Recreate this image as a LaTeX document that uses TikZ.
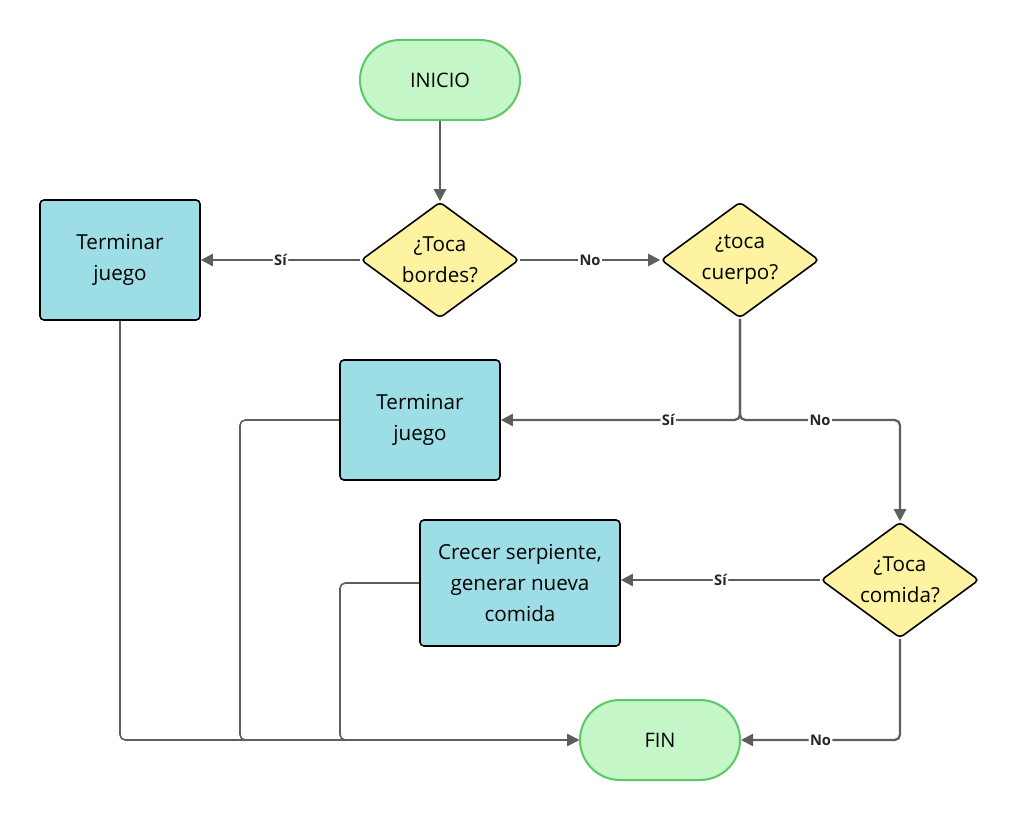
\documentclass[tikz,border=0pt]{standalone}
\usepackage{fontspec}
\setmainfont{Open Sans}
\usetikzlibrary{shapes.geometric,arrows.meta}
\definecolor{termfill}{HTML}{C4F6C8}
\definecolor{termdraw}{HTML}{5CC865}
\definecolor{decfill}{HTML}{FEF3A0}
\definecolor{procfill}{HTML}{9CDDE6}
\definecolor{edgecol}{HTML}{5E5E5E}
\tikzset{
  terminal/.style={draw=termdraw, fill=termfill, line width=1.5pt, rounded corners=30pt, minimum width=120pt, minimum height=60pt, inner sep=0pt, font=\fontsize{15pt}{18pt}\selectfont},
  decision/.style={diamond, draw=black, fill=decfill, line width=1.2pt, rounded corners=3pt, minimum width=118.5pt, minimum height=87pt, inner sep=0pt},
  dectext/.style={align=center, inner sep=0pt, font=\fontsize{15.5pt}{23pt}\selectfont},
  process/.style={draw=black, fill=procfill, line width=1.2pt, rounded corners=3pt, inner sep=0pt, align=center, font=\fontsize{15.5pt}{23pt}\selectfont},
  flow/.style={draw=edgecol, line width=1.7pt, rounded corners=4pt, -{Triangle[length=9pt,width=9pt]}},
  back/.style={draw=edgecol, line width=1.2pt, rounded corners=4pt, -{Triangle[length=9pt,width=9pt]}},
  lbl/.style={fill=white, inner sep=1pt, font=\bfseries\fontsize{11pt}{12pt}\selectfont, text=black!85},
}
\begin{document}
\begin{tikzpicture}[x=0.75pt,y=-0.75pt]
\useasboundingbox (0,0) rectangle (1020,820);
\node[terminal] (inicio) at (440,80) {INICIO};
\node[decision] (d1) at (440,260) {};
\node[dectext] (d1t) at (d1.center) {¿Toca\\bordes?};
\node[process, minimum width=120pt, minimum height=90pt] (t1) at (120,260) {Terminar\\juego};
\node[decision] (d2) at (740,260) {};
\node[dectext] (d2t) at (d2.center) {¿toca\\cuerpo?};
\node[process, minimum width=120pt, minimum height=90pt] (t2) at (420,420) {Terminar\\juego};
\node[decision] (d3) at (900,580) {};
\node[dectext] (d3t) at (d3.center) {¿Toca\\comida?};
\node[process, minimum width=150pt, minimum height=94.5pt] (cr) at (520,583) {Crecer serpiente,\\generar nueva\\comida};
\node[terminal] (fin) at (660,740) {FIN};

\coordinate (j2) at (740,420);
\coordinate (r2) at (900,420);
\coordinate (b3) at (900,740);
\coordinate (c1) at (120,740);
\coordinate (c2a) at (240,420);
\coordinate (c2b) at (240,740);
\coordinate (c3a) at (340,583);
\coordinate (c3b) at (340,740);

\draw[flow] (inicio) -- (d1);
\draw[flow] (d1) -- node[lbl]{Sí} (t1);
\draw[flow] (d1) -- node[lbl]{No} (d2);
\draw[flow] (d2.south) -- (j2) -- node[lbl, pos=0.3]{Sí} (t2.east);
\draw[flow] (d2.south) -- (j2) -- node[lbl, pos=0.5]{No} (r2) -- (d3.north);
\draw[flow] (d3) -- node[lbl]{Sí} (cr.east |- d3);
\draw[flow] (d3.south) -- (b3) -- node[lbl, pos=0.5]{No} (fin.east);
\draw[back] (t1.south) -- (c1) -- (fin.west);
\draw[back] (t2.west) -- (c2a) -- (c2b) -- (fin.west);
\draw[back] (cr.west |- c3a) -- (c3a) -- (c3b) -- (fin.west);
\end{tikzpicture}
\end{document}
